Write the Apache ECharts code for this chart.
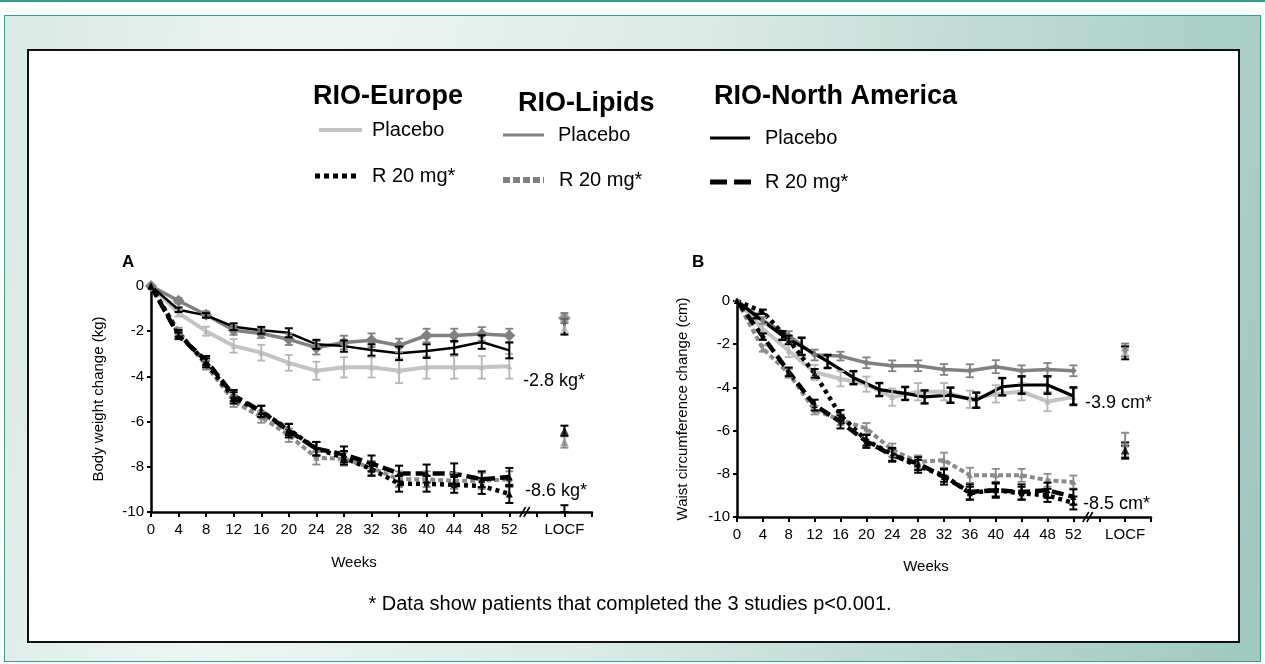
<!DOCTYPE html>
<html><head><meta charset="utf-8">
<script src="https://cdn.jsdelivr.net/npm/echarts/dist/echarts.min.js"></script>
<style>
html,body{margin:0;padding:0;width:1265px;height:664px;overflow:hidden;background:#fff;}
#topline{position:absolute;left:0;top:0;width:1265px;height:2px;background:#2f9c88;}
#panel{position:absolute;left:4px;top:15px;width:1255px;height:645px;border:1px solid #3a9f8c;
 background:linear-gradient(100deg,#d9e9e3 0%,#eef5f2 22%,#dcebe6 50%,#bcd9d2 75%,#9fc8bf 100%);}
#box{position:absolute;left:27px;top:49px;width:1209px;height:590px;border:2px solid #111;background:#fff;}
#chart{position:absolute;left:0;top:0;width:1265px;height:664px;}
</style></head>
<body>
<div id="topline"></div><div id="panel"></div><div id="box"></div>
<div id="chart"></div>
<script>
// ---------------- DATA ----------------
const weeks = [0,4,8,12,16,20,24,28,32,36,40,44,48,52];
const weeksNAPlaceboB = [0,3,7,10,14,18,22,26,29,33,37,41,44,48,52];
const lastWeek = 52;
const locfWeek = 60;
const locfLabel = 'LOCF';
const breakWeek = 54.3;

// Panel A: body weight change (kg)
const A_euPlacebo = [0,-1.2,-2.0,-2.65,-2.95,-3.4,-3.75,-3.6,-3.6,-3.75,-3.6,-3.6,-3.6,-3.55];
const A_euPlaceboErr = [0,0.15,0.2,0.3,0.35,0.35,0.4,0.45,0.45,0.55,0.5,0.5,0.5,0.55];
const A_liPlacebo = [0,-0.65,-1.27,-1.96,-2.1,-2.36,-2.73,-2.5,-2.4,-2.63,-2.19,-2.19,-2.12,-2.19];
const A_liPlaceboErr = [0,0.12,0.15,0.2,0.2,0.25,0.3,0.3,0.3,0.3,0.3,0.3,0.3,0.3];
const A_naPlacebo = [0,-1.05,-1.3,-1.8,-1.96,-2.07,-2.58,-2.66,-2.83,-2.98,-2.88,-2.73,-2.48,-2.85];
const A_naPlaceboErr = [0,0.1,0.1,0.15,0.15,0.2,0.2,0.25,0.25,0.3,0.3,0.3,0.3,0.35];
const A_euR20 = [0,-2.1,-3.4,-4.95,-5.55,-6.35,-7.2,-7.6,-8.1,-8.75,-8.75,-8.8,-8.85,-9.2];
const A_euR20Err = [0,0.15,0.2,0.25,0.25,0.25,0.3,0.3,0.3,0.35,0.35,0.35,0.35,0.4];
const A_liR20 = [0,-2.0,-3.5,-5.1,-5.8,-6.6,-7.6,-7.65,-8.05,-8.55,-8.55,-8.62,-8.62,-8.55];
const A_liR20Err = [0,0.15,0.2,0.25,0.25,0.3,0.3,0.3,0.3,0.35,0.35,0.35,0.35,0.35];
const A_naR20 = [0,-2.2,-3.3,-4.85,-5.55,-6.4,-7.2,-7.45,-7.85,-8.3,-8.3,-8.3,-8.55,-8.45];
const A_naR20Err = [0,0.15,0.2,0.25,0.25,0.3,0.3,0.35,0.35,0.35,0.4,0.45,0.35,0.4];
// LOCF order: euPlacebo, liPlacebo, naPlacebo, euR20, liR20, naR20
const A_locf = [-1.85,-1.42,-1.8,-9.85,-6.9,-6.4];
const A_locfErr = [0.25,0.22,0.35,0.15,0.25,0.22];

// Panel B: waist circumference change (cm)
const B_euPlacebo = [0,-1.3,-2.3,-3.3,-3.6,-3.85,-4.45,-4.2,-4.2,-4.55,-4.3,-4.2,-4.65,-4.45];
const B_euPlaceboErr = [0,0.2,0.3,0.35,0.35,0.35,0.4,0.4,0.4,0.4,0.4,0.4,0.45,0.4];
const B_liPlacebo = [0,-0.9,-1.6,-2.5,-2.55,-2.86,-3.0,-3.0,-3.17,-3.23,-3.04,-3.23,-3.17,-3.23];
const B_liPlaceboErr = [0,0.15,0.2,0.25,0.2,0.25,0.25,0.25,0.25,0.3,0.3,0.25,0.3,0.25];
const B_naPlacebo = [0,-0.7,-1.6,-2.1,-2.8,-3.55,-4.1,-4.28,-4.44,-4.36,-4.59,-3.97,-3.89,-3.89,-4.4];
const B_naPlaceboErr = [0,0.1,0.2,0.4,0.3,0.3,0.3,0.3,0.3,0.35,0.35,0.4,0.4,0.4,0.4];
const B_euR20 = [0,-0.5,-1.8,-3.35,-5.3,-6.45,-7.1,-7.65,-8.07,-8.9,-8.75,-8.9,-9.0,-9.35];
const B_euR20Err = [0,0.1,0.2,0.2,0.25,0.25,0.3,0.3,0.3,0.3,0.3,0.3,0.3,0.3];
const B_liR20 = [0,-2.2,-3.35,-5.05,-5.5,-5.9,-6.9,-7.45,-7.37,-8.07,-8.07,-8.07,-8.3,-8.38];
const B_liR20Err = [0,0.15,0.2,0.2,0.25,0.25,0.3,0.3,0.35,0.35,0.3,0.3,0.3,0.3];
const B_naR20 = [0,-1.65,-3.28,-4.82,-5.6,-6.5,-7.14,-7.53,-8.15,-8.84,-8.76,-8.84,-8.76,-9.07];
const B_naR20Err = [0,0.15,0.2,0.25,0.3,0.3,0.3,0.3,0.35,0.35,0.35,0.35,0.35,0.35];
const B_locf = [-2.35,-2.27,-2.4,-7.0,-6.6,-6.9];
const B_locfErr = [0.2,0.3,0.3,0.3,0.5,0.35];

const studies = ['RIO-Europe','RIO-Lipids','RIO-North America'];
const armLabels = ['Placebo','R 20 mg*'];
const yNames = ['Body weight change (kg)','Waist circumference change (cm)'];
const xName = 'Weeks';
const panelLetters = ['A','B'];
const endLabels = ['-2.8 kg*','-8.6 kg*','-3.9 cm*','-8.5 cm*'];
const footnote = '* Data show patients that completed the 3 studies p<0.001.';

// ---------------- STYLE ----------------
const FONT = "'Liberation Sans', Arial, Helvetica, sans-serif";
const LIGHT = '#c3c3c3', MID = '#808080', BLACK = '#000';
const styles = {
  euPl: {color: LIGHT, width: 4, type: 'solid', symbol: 'triangle', size: [6,6], err: '#b5b5b5'},
  liPl: {color: MID, width: 3.5, type: 'solid', symbol: 'diamond', size: [12,7], err: MID},
  naPl: {color: BLACK, width: 2.5, type: 'solid', symbol: 'none', size: [0,0], err: BLACK},
  euR: {color: BLACK, width: 4.5, type: [4,4], symbol: 'triangle', size: [7,6], err: BLACK},
  liR: {color: '#8a8a8a', width: 4, type: [5,3], symbol: 'triangle', size: [6,6], err: '#8a8a8a'},
  naR: {color: BLACK, width: 4.5, type: [12,5], symbol: 'triangle', size: [7,6], err: BLACK}
};
const order = ['euPl','liPl','liR','naPl','euR','naR'];
const locfOrder = ['euPl','liPl','naPl','euR','liR','naR'];

function errBarSeries(gi, data, color, lw, cap) {
  return {
    type: 'custom', xAxisIndex: gi, yAxisIndex: gi, silent: true, animation: false, z: 3,
    data: data,
    renderItem: function (params, api) {
      const x = api.value(0), v = api.value(1), e = api.value(2);
      if (!e) return null;
      const top = api.coord([x, v + e]), bot = api.coord([x, v - e]);
      const st = {stroke: color, lineWidth: lw};
      return {type: 'group', children: [
        {type: 'line', shape: {x1: top[0], y1: top[1], x2: bot[0], y2: bot[1]}, style: st},
        {type: 'line', shape: {x1: top[0]-cap, y1: top[1], x2: top[0]+cap, y2: top[1]}, style: st},
        {type: 'line', shape: {x1: bot[0]-cap, y1: bot[1], x2: bot[0]+cap, y2: bot[1]}, style: st}
      ]};
    }
  };
}

function addSeries(list, gi, key, xs, ys, es) {
  const s = styles[key];
  const width = (key === 'naPl' && gi === 1) ? 3.2 : s.width;
  list.push({
    type: 'line', xAxisIndex: gi, yAxisIndex: gi, silent: true, animation: false, z: 2,
    data: xs.map((x, i) => [x, ys[i]]),
    symbol: s.symbol, symbolSize: s.size[gi],
    itemStyle: {color: s.color},
    lineStyle: {color: s.color, width: width, type: s.type, cap: 'butt', join: 'round'}
  });
  const lw = (s.color === BLACK) ? 2 : 1.8;
  list.push(errBarSeries(gi, xs.map((x, i) => [x, ys[i], es[i]]), s.err, gi === 1 && key === 'naPl' ? 2.5 : lw, 4));
}

function addLocf(list, gi, vals, errs) {
  locfOrder.forEach((key, i) => {
    const s = styles[key];
    list.push(errBarSeries(gi, [[locfWeek, vals[i], errs[i]]], s.err, 2, 4));
    if (s.symbol !== 'none') {
      list.push({type: 'scatter', xAxisIndex: gi, yAxisIndex: gi, silent: true, animation: false, z: 4,
        data: [[locfWeek, vals[i]]], symbol: s.symbol,
        symbolSize: key === 'liPl' ? (gi === 0 ? 13 : 8) : (key === 'euR' ? 0 : 8),
        itemStyle: {color: s.color}});
    }
  });
}

function addBreak(list, gi) {
  list.push({type: 'custom', xAxisIndex: gi, yAxisIndex: gi, silent: true, animation: false, z: 6,
    clip: false, data: [[breakWeek, -10]],
    renderItem: function (params, api) {
      const p = api.coord([api.value(0), api.value(1)]);
      const st = {stroke: '#000', lineWidth: 1.5};
      return {type: 'group', children: [
        {type: 'line', shape: {x1: p[0]-5.5, y1: p[1]+5, x2: p[0]+0.5, y2: p[1]-5}, style: st},
        {type: 'line', shape: {x1: p[0]-1.5, y1: p[1]+5, x2: p[0]+4.5, y2: p[1]-5}, style: st}
      ]};
    }});
}

const series = [];
const A = {euPl:[A_euPlacebo,A_euPlaceboErr], liPl:[A_liPlacebo,A_liPlaceboErr], naPl:[A_naPlacebo,A_naPlaceboErr],
           euR:[A_euR20,A_euR20Err], liR:[A_liR20,A_liR20Err], naR:[A_naR20,A_naR20Err]};
const B = {euPl:[B_euPlacebo,B_euPlaceboErr], liPl:[B_liPlacebo,B_liPlaceboErr], naPl:[B_naPlacebo,B_naPlaceboErr],
           euR:[B_euR20,B_euR20Err], liR:[B_liR20,B_liR20Err], naR:[B_naR20,B_naR20Err]};
order.forEach(k => addSeries(series, 0, k, weeks, A[k][0], A[k][1]));
order.forEach(k => addSeries(series, 1, k, k === 'naPl' ? weeksNAPlaceboB : weeks, B[k][0], B[k][1]));
addLocf(series, 0, A_locf, A_locfErr);
addLocf(series, 1, B_locf, B_locfErr);
addBreak(series, 0);
addBreak(series, 1);

function xAxisDef(gi) {
  return {gridIndex: gi, type: 'value', min: 0, max: 64, interval: 4,
    axisLine: {onZero: false, lineStyle: {color: '#000', width: 2.5}},
    axisTick: {show: true, inside: false, length: 5, lineStyle: {color: '#000', width: 2}},
    axisLabel: {color: '#000', fontSize: 15, fontFamily: FONT, margin: 10,
      formatter: v => v <= lastWeek ? String(v) : (v === locfWeek ? locfLabel : '')},
    splitLine: {show: false}};
}
function yAxisDef(gi) {
  return {gridIndex: gi, type: 'value', min: -10, max: 0, interval: 2,
    name: yNames[gi], nameLocation: 'middle', nameGap: gi === 0 ? 45 : 47,
    nameTextStyle: {color: '#000', fontSize: 15, fontFamily: FONT},
    axisLine: {onZero: false, lineStyle: {color: '#000', width: 2.5}},
    axisTick: {show: true, inside: false, length: 4, lineStyle: {color: '#000', width: 2}},
    axisLabel: {color: '#000', fontSize: 15, fontFamily: FONT, margin: 7},
    splitLine: {show: false}};
}

function txtAt(x, y, text, size, bold, align) {
  return {type: 'text', x: x, y: y, silent: true,
    style: {text: text, fill: '#000', font: (bold ? 'bold ' : '') + size + 'px ' + FONT,
      textAlign: align || 'left', textVerticalAlign: 'middle'}};
}
function seg(x1, x2, y, color, w, dash) {
  return {type: 'line', silent: true, shape: {x1: x1, y1: y, x2: x2, y2: y},
    style: {stroke: color, lineWidth: w, lineDash: dash || null, lineCap: 'butt'}};
}

const graphics = [
  txtAt(313, 97, studies[0], 27, true),
  txtAt(518, 104, studies[1], 27, true),
  txtAt(714, 97, studies[2], 27, true),
  seg(319, 362, 130, LIGHT, 4),
  txtAt(372, 130, armLabels[0], 20),
  seg(503, 544, 135, MID, 3),
  txtAt(558, 135, armLabels[0], 20),
  seg(710, 750, 138, BLACK, 3),
  txtAt(765, 138, armLabels[0], 20),
  seg(315, 356, 176, BLACK, 5, [5,4]),
  txtAt(372, 176, armLabels[1], 20),
  seg(503, 544, 180, MID, 6, [7,3]),
  txtAt(559, 180, armLabels[1], 20),
  seg(710, 752, 182, BLACK, 5, [17,7]),
  txtAt(765, 182, armLabels[1], 20),
  txtAt(122, 262, panelLetters[0], 17, true),
  txtAt(692, 262, panelLetters[1], 17, true),
  txtAt(354, 563, xName, 15, false, 'center'),
  txtAt(926, 567, xName, 15, false, 'center'),
  txtAt(523, 381, endLabels[0], 18),
  txtAt(525, 491, endLabels[1], 18),
  txtAt(1085, 403, endLabels[2], 18),
  txtAt(1083, 504, endLabels[3], 18),
  txtAt(630, 604, footnote, 20, false, 'center')
];

const chart = echarts.init(document.getElementById('chart'), null, {renderer: 'canvas'});
chart.setOption({
  animation: false,
  backgroundColor: 'transparent',
  textStyle: {fontFamily: FONT},
  grid: [
    {left: 151, top: 286, width: 441, height: 226},
    {left: 737, top: 301, width: 414, height: 216}
  ],
  xAxis: [xAxisDef(0), xAxisDef(1)],
  yAxis: [yAxisDef(0), yAxisDef(1)],
  series: series,
  graphic: graphics
});
</script>
</body></html>
